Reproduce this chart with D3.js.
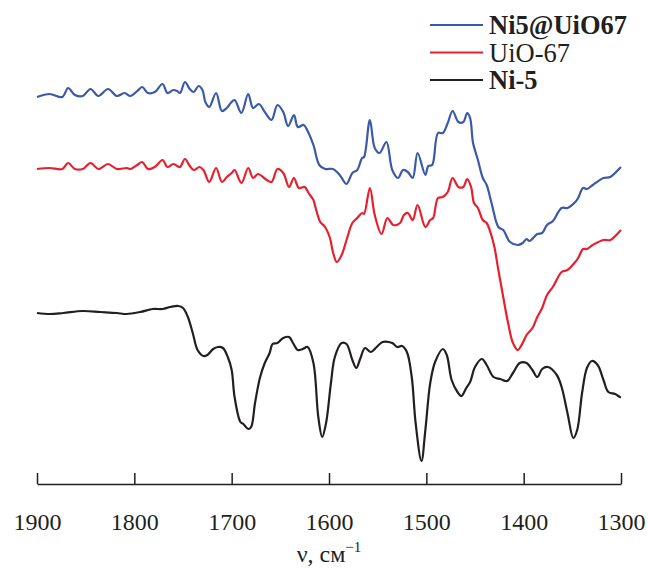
<!DOCTYPE html>
<html>
<head>
<meta charset="utf-8">
<script src="https://cdn.jsdelivr.net/npm/d3@7"></script>
<style>
  body { margin: 0; background: #fff; }
  svg text { font-family: "Liberation Serif", "Times New Roman", serif; fill: #231f20; }
</style>
</head>
<body>
<svg id="chart"></svg>
<script>
// wavenumbers (cm-1) and transmittance (arb. units)
var niUioWn = [1900,1887,1874,1868,1861,1853,1845,1837,1827,1818,1810,1804,1797,1792,1786,1779,1771,1766,1760,1756,1753,1748,1743,1739,1734,1730,1727,1723,1716,1710,1705,1701,1697,1690,1683,1678,1672,1666,1659,1653,1647,1642,1636,1632,1626,1622,1616,1610,1604,1596,1589,1582,1576,1571,1566,1564,1558,1553,1548,1541,1535,1529,1524,1519,1514,1509,1501,1498,1494,1488,1483,1478,1473,1467,1462,1458,1455,1452,1447,1442,1438,1433,1426,1421,1414,1406,1401,1397,1394,1386,1381,1376,1370,1361,1355,1347,1344,1339,1335,1329,1318,1311,1301,1300];
var niUioT = [387,390,387,396,389,388,395,388,395,388,391,388,393,397,391,392,400,391,394,393,391,402,395,392,398,394,382,377,391,373,376,381,384,371,390,376,380,372,364,379,372,358,369,357,359,353,339,319,315,315,309,300,311,314,326,327,364,336,331,342,314,306,314,312,306,331,309,318,319,351,351,361,373,362,362,371,366,341,324,306,299,281,257,254,242,239,241,245,243,250,251,259,263,276,276,282,286,296,295,299,306,307,316,317];

var uioWn = [1900,1887,1874,1868,1861,1853,1845,1837,1827,1818,1808,1804,1797,1792,1786,1779,1771,1766,1760,1756,1753,1748,1743,1739,1733,1729,1723,1716,1710,1705,1700,1697,1690,1683,1678,1673,1664,1659,1653,1647,1641,1636,1631,1625,1621,1616,1614,1609,1604,1599,1596,1592,1587,1582,1576,1571,1566,1564,1558,1553,1546,1540,1534,1527,1523,1519,1514,1509,1501,1496,1493,1488,1483,1478,1473,1467,1462,1458,1454,1451,1447,1442,1438,1431,1426,1421,1416,1411,1406,1401,1397,1391,1386,1381,1376,1370,1361,1355,1347,1344,1339,1335,1329,1318,1311,1301,1300];
var uioT = [315,316,315,321,315,315,321,315,320,315,316,315,319,322,315,317,324,317,320,318,317,325,318,314,317,314,302,316,302,307,311,314,301,316,306,310,304,302,315,311,297,306,296,297,291,284,277,262,257,246,232,222,229,244,261,266,271,270,296,269,250,266,259,261,269,271,264,279,257,264,266,286,287,292,306,297,297,305,297,281,276,264,261,241,214,187,161,141,134,141,149,156,167,176,189,197,212,214,222,226,235,235,239,244,244,253,254];

var ni5Wn = [1900,1887,1873,1853,1835,1818,1808,1794,1781,1771,1763,1755,1750,1745,1740,1735,1729,1725,1719,1714,1709,1704,1700,1697,1691,1688,1683,1680,1676,1671,1666,1661,1658,1653,1647,1641,1637,1632,1627,1622,1616,1611,1607,1603,1598,1594,1587,1582,1576,1572,1568,1563,1557,1551,1545,1535,1530,1525,1520,1515,1511,1505,1501,1496,1491,1483,1479,1474,1468,1464,1459,1455,1450,1443,1438,1431,1424,1417,1411,1404,1397,1391,1386,1381,1375,1366,1361,1355,1349,1345,1340,1335,1330,1324,1318,1313,1306,1301,1300];
var ni5T = [171,170,171,173,172,171,170,172,175,175,177,178,176,167,151,134,128,129,135,137,136,127,114,87,62,60,55,57,81,106,121,131,140,141,146,147,141,134,135,137,121,67,47,61,101,127,141,140,124,116,125,136,132,137,142,141,137,138,132,107,61,23,54,101,122,135,129,104,92,88,96,102,117,125,119,107,105,103,111,121,121,114,107,115,117,109,97,71,46,54,91,116,123,119,104,92,90,87,87];

var seriesNames = ["Ni5@UiO67", "UiO-67", "Ni-5"];
var seriesColors = ["#3b59a8", "#e8202e", "#231f20"];
var xTicks = [1900, 1800, 1700, 1600, 1500, 1400, 1300];

var width = 648, height = 568;
var svg = d3.select("#chart").attr("width", width).attr("height", height);

var x = d3.scaleLinear().domain([1900, 1300]).range([37, 621]);
var y = d3.scaleLinear().domain([0, 460]).range([484, 24]);

var line = d3.line()
  .x(function(d) { return x(d[0]); })
  .y(function(d) { return y(d[1]); })
  .curve(d3.curveCatmullRom.alpha(0.5));

var series = [
  { name: seriesNames[0], wn: niUioWn, t: niUioT, color: seriesColors[0], bold: true },
  { name: seriesNames[1], wn: uioWn, t: uioT, color: seriesColors[1], bold: false },
  { name: seriesNames[2], wn: ni5Wn, t: ni5T, color: seriesColors[2], bold: true }
];

series.forEach(function(s) {
  var pts = s.wn.map(function(w, i) { return [w, s.t[i]]; });
  svg.append("path")
    .datum(pts)
    .attr("fill", "none")
    .attr("stroke", s.color)
    .attr("stroke-width", 2.2)
    .attr("stroke-linejoin", "round")
    .attr("d", line);
});

// x axis, ticks pointing up
var xAxis = svg.append("g")
  .attr("transform", "translate(0,484)")
  .call(d3.axisBottom(x).tickValues(xTicks).tickSize(-11).tickSizeOuter(0).tickPadding(29).tickFormat(d3.format("d")));
xAxis.select(".domain").attr("stroke", "#231f20").attr("stroke-width", 1.5);
xAxis.selectAll(".tick line").attr("stroke", "#231f20").attr("stroke-width", 1.5);
xAxis.selectAll(".tick text")
  .style("font-family", '"Liberation Serif", "Times New Roman", serif')
  .style("font-size", "24px")
  .attr("fill", "#231f20");

// axis title
var title = svg.append("text")
  .attr("x", 329)
  .attr("y", 562)
  .attr("text-anchor", "middle")
  .style("font-size", "24px");
title.append("tspan").text("ν, см");
title.append("tspan").attr("dy", -10).style("font-size", "15px").text("−1");

// legend
var legend = svg.append("g");
series.forEach(function(s, i) {
  var ly = 25 + i * 27.5;
  legend.append("line")
    .attr("x1", 430).attr("x2", 483)
    .attr("y1", ly).attr("y2", ly)
    .attr("stroke", s.color)
    .attr("stroke-width", 2);
  legend.append("text")
    .attr("x", 489)
    .attr("y", ly + 9)
    .style("font-size", "26.5px")
    .style("font-weight", s.bold ? "bold" : "normal")
    .text(s.name);
});
</script>
</body>
</html>
